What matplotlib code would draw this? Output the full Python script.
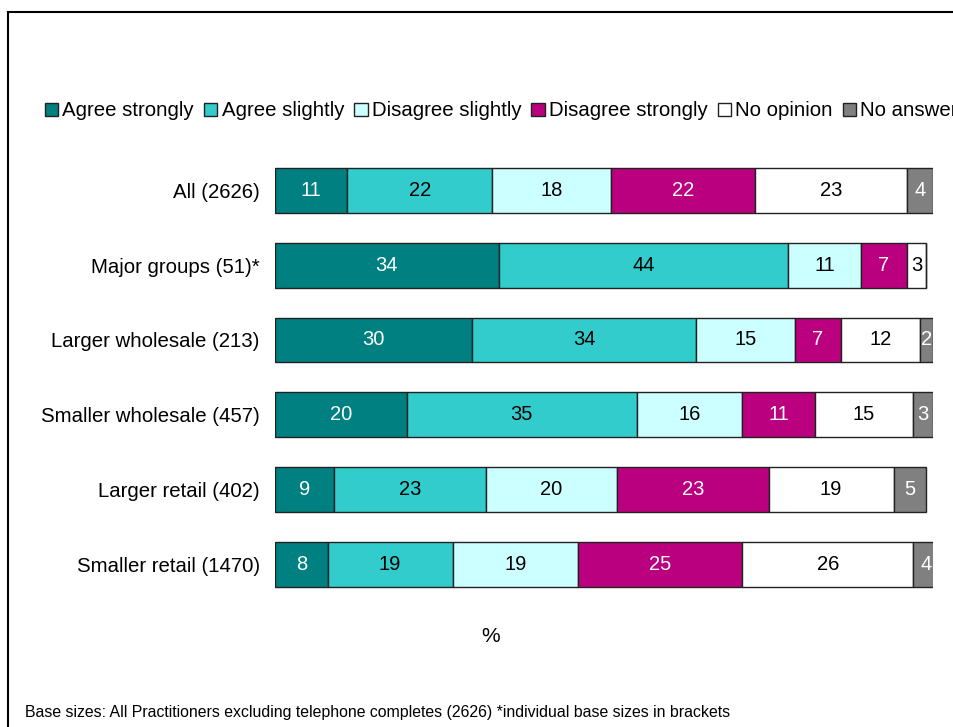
import matplotlib.pyplot as plt
from matplotlib.patches import Rectangle

plt.rcParams['font.family'] = ['Liberation Sans', 'DejaVu Sans']

groups = ["All (2626)", "Major groups (51)*", "Larger wholesale (213)",
          "Smaller wholesale (457)", "Larger retail (402)", "Smaller retail (1470)"]
responses = ["Agree strongly", "Agree slightly", "Disagree slightly",
             "Disagree strongly", "No opinion", "No answer"]

agree_strongly = [11, 34, 30, 20, 9, 8]
agree_slightly = [22, 44, 34, 35, 23, 19]
disagree_slightly = [18, 11, 15, 16, 20, 19]
disagree_strongly = [22, 7, 7, 11, 23, 25]
no_opinion = [23, 3, 12, 15, 19, 26]
no_answer = [4, 0, 2, 3, 5, 4]

series = [agree_strongly, agree_slightly, disagree_slightly,
          disagree_strongly, no_opinion, no_answer]
colors = ["#008080", "#33CCCC", "#CCFFFF", "#BB007F", "#FFFFFF", "#808080"]
text_colors = ["white", "black", "black", "white", "black", "white"]

fig = plt.figure(figsize=(9.54, 7.27), dpi=100)
ax = fig.add_axes([0.2883, 0.1713, 0.6897, 0.6189])

y = list(range(len(groups)))
left = [0] * len(groups)
for vals, col, tcol, name in zip(series, colors, text_colors, responses):
    bars = ax.barh(y, vals, left=left, height=0.6, color=col,
                   edgecolor="#222222", linewidth=1, label=name)
    for b, v in zip(bars, vals):
        if v > 0:
            ax.text(b.get_x() + b.get_width() / 2, b.get_y() + b.get_height() / 2,
                    str(v), ha="center", va="center", color=tcol, fontsize=14.5)
    left = [l + v for l, v in zip(left, vals)]

ax.set_xlim(0, 100)
ax.set_ylim(5.5, -0.5)
ax.set_yticks(y)
ax.set_yticklabels(groups, fontsize=14.7)
ax.tick_params(axis="y", length=0, pad=11)
ax.set_xticks([])
for s in ax.spines.values():
    s.set_visible(False)

fig.text(491 / 954, 1 - 636 / 727, "%", ha="center", va="center", fontsize=15)
fig.text(25 / 954, 1 - 713 / 727,
         "Base sizes: All Practitioners excluding telephone completes (2626) *individual base sizes in brackets",
         ha="left", va="center", fontsize=11.4)

fig.legend(loc="center left", bbox_to_anchor=(45 / 954, 1 - 111 / 727), ncol=6,
           frameon=False, fontsize=14.7, handlelength=0.65, handleheight=0.65,
           handletextpad=0.2, columnspacing=0.5, borderaxespad=0, borderpad=0)

# outer frame, running off the right and bottom edges
fig.patches.append(Rectangle((8 / 954, -0.1), 1.2, 1 - 12 / 727 + 0.1,
                             transform=fig.transFigure, fill=False,
                             edgecolor="black", linewidth=1.5))

fig.savefig("out.png", dpi=100)
